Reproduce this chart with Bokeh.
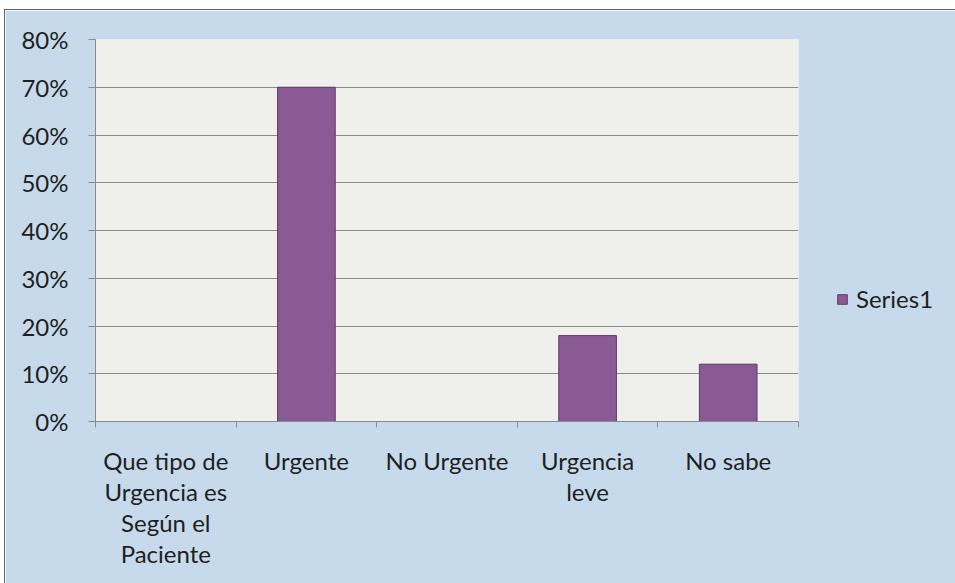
from bokeh.plotting import figure
from bokeh.models import (Range1d, LinearAxis, FixedTicker, NumeralTickFormatter,
                          Legend, LegendItem, ColumnDataSource)
from bokeh.embed import file_html
from bokeh.resources import INLINE

categories = ["Que tipo de\nUrgencia es\nSegún el\nPaciente", "Urgente", "No Urgente",
              "Urgencia\nleve", "No sabe"]
values = [0.0, 0.70, 0.0, 0.18, 0.12]
series_name = "Series1"
y_ticks = [0.0, 0.1, 0.2, 0.3, 0.4, 0.5, 0.6, 0.7, 0.8]

FONT = "Lato"
TXT = "#1f1f1f"
FS = "24px"
n = len(categories)
centers = [i + 0.5 for i in range(n)]
bounds = list(range(n + 1))

p = figure(frame_width=703, frame_height=382, output_backend="svg", toolbar_location=None,
           x_range=Range1d(0, n), y_range=Range1d(0, 0.8),
           x_axis_location=None, y_axis_location="left",
           min_border_left=90, min_border_right=157, min_border_top=29, min_border_bottom=162)
p.styles = {"margin-left": "4px", "margin-top": "9px",
            "border-left": "1px solid #5a6670", "border-top": "1px solid #5a6670"}

p.background_fill_color = "#efefeb"
p.border_fill_color = "#c6daec"
p.outline_line_color = None

src = ColumnDataSource(dict(x=centers, top=values, cat=categories))
r = p.vbar(x="x", top="top", width=0.41, source=src, fill_color="#8a5a94",
           line_color="#5d3b66", line_width=1)

# y axis
ya = p.yaxis[0]
ya.ticker = FixedTicker(ticks=y_ticks)
ya.formatter = NumeralTickFormatter(format="0%")
ya.axis_line_color = "#8a8a8a"
ya.major_tick_line_color = "#8a8a8a"
ya.major_tick_out = 7
ya.major_tick_in = 0
ya.minor_tick_line_color = None
ya.major_label_text_font = FONT
ya.major_label_text_font_size = FS
ya.major_label_text_color = TXT
ya.major_label_standoff = 20

p.ygrid.ticker = FixedTicker(ticks=y_ticks)
p.ygrid.grid_line_color = "#8a8a8a"
p.ygrid.grid_line_width = 1
p.xgrid.grid_line_color = None

# category axis: labels at centers, minor ticks at category boundaries
ca = LinearAxis(ticker=FixedTicker(ticks=centers, minor_ticks=bounds),
                major_label_overrides={c: lab for c, lab in zip(centers, categories)})
ca.axis_line_color = "#8a8a8a"
ca.major_tick_line_color = None
ca.major_tick_out = 0
ca.major_tick_in = 0
ca.minor_tick_line_color = "#8a8a8a"
ca.minor_tick_out = 6
ca.minor_tick_in = 0
ca.major_label_text_font = FONT
ca.major_label_text_font_size = FS
ca.major_label_text_color = TXT
ca.major_label_text_line_height = 1.07
ca.major_label_standoff = 18
p.add_layout(ca, "below")

legend = Legend(items=[LegendItem(label=series_name, renderers=[r])],
                location=(38, 108), background_fill_alpha=0, border_line_color=None,
                label_text_font=FONT, label_text_font_size=FS, label_text_color=TXT,
                glyph_width=12, glyph_height=12, label_standoff=8, padding=4, margin=0)
p.add_layout(legend, "right")

open("out.html", "w").write(file_html(p, INLINE))
